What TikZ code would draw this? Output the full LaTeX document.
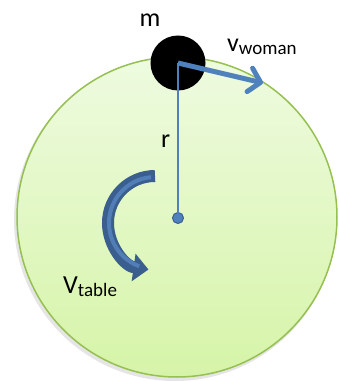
\documentclass[tikz,border=0pt]{standalone}
\usepackage{fontspec}
\setmainfont{Carlito}
\usetikzlibrary{arrows.meta}

\definecolor{tabletop}{RGB}{238,251,224}
\definecolor{tablebottom}{RGB}{214,244,168}
\definecolor{tableedge}{RGB}{150,192,82}
\definecolor{arrowblue}{RGB}{79,129,189}
\definecolor{arrowdark}{RGB}{58,94,142}
\definecolor{arrowlight}{RGB}{82,126,184}

\newcommand\lowsub[1]{\raisebox{-3pt}{\fontsize{19}{19}\selectfont #1}}

\begin{document}
\begin{tikzpicture}[x=1pt,y=1pt,
  lbl/.style={font=\fontsize{26}{26}\selectfont,inner sep=0pt},
  tablebody/.style={circle,minimum size=320pt,inner sep=0pt,draw=tableedge,line width=1.5pt,
    top color=tabletop,bottom color=tablebottom},
  mass/.style={circle,fill=black,minimum size=55pt,inner sep=0pt},
  axis/.style={circle,fill=arrowblue,draw=arrowdark,line width=1pt,minimum size=11pt,inner sep=0pt},
  radius line/.style={arrowblue,line width=1.4pt},
  velocity/.style={arrowblue,line width=5pt,-{Straight Barb[length=11pt,width=24pt,round]}},
  spin/.style={arrowdark,line width=12pt,-{Triangle[length=15pt,width=27pt]}}]
\useasboundingbox (0,0) rectangle (339,381);

% shadow and table
\fill[black,opacity=0.10] (175,161) circle (161);
\node[tablebody] (table) at (177,164) {};

% rotation of the table
\draw[spin] ([shift={(90:47)}]155,158) arc[start angle=90,end angle=262,radius=47];
\draw[arrowlight,line width=4pt] ([shift={(95:46)}]155,158) arc[start angle=95,end angle=250,radius=46];

% woman on the rim
\node[axis] (axis) at (178,163) {};
\node[mass] (woman) at (178,318) {};
\coordinate (vtip) at (263,298);
\draw[radius line] (woman.center) -- (axis.center);
\draw[velocity] (woman.center) -- (vtip);

% labels
\node[lbl,anchor=base] (mlabel) at (150,354) {m};
\node[lbl,anchor=base west] (vwoman) at (227,329) {v\lowsub{woman}};
\node[lbl,anchor=base west] (rlabel) at (161,233) {r};
\node[lbl,anchor=base west] (vtable) at (63,87) {V\lowsub{table}};
\end{tikzpicture}
\end{document}
